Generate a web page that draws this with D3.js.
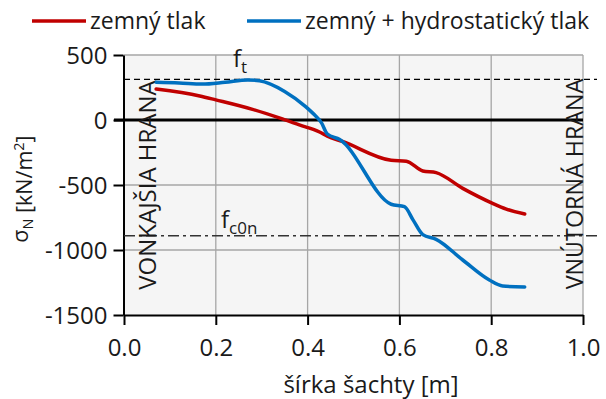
<!DOCTYPE html>
<html>
<head>
<meta charset="utf-8">
<script src="https://cdn.jsdelivr.net/npm/d3@7"></script>
<style>
  html, body { margin: 0; padding: 0; background: #fff; }
  svg text { font-family: "Open Sans", "Noto Sans", sans-serif; fill: #1a1a1a; }
</style>
</head>
<body>
<svg id="chart" width="606" height="399"></svg>
<script>
// Normal stress across the shaft wall width
const seriesNames = ["zemný tlak", "zemný + hydrostatický tlak"];
const seriesColors = ["#c00000", "#0070c0"];

const earthX = [0.07, 0.165, 0.2, 0.28, 0.345, 0.382, 0.426, 0.443, 0.476, 0.582, 0.615, 0.651, 0.68, 0.738, 0.803, 0.833, 0.873];
const earthY = [238, 185, 155, 82, 8, -38, -92, -125, -165, -310, -317, -392, -405, -526, -641, -685, -723];

const hydroX = [0.07, 0.12, 0.17, 0.22, 0.27, 0.295, 0.35, 0.395, 0.415, 0.43, 0.443, 0.47, 0.582, 0.611, 0.63, 0.651, 0.68, 0.738, 0.796, 0.825, 0.873];
const hydroY = [290, 285, 276, 290, 308, 302, 220, 105, 40, -20, -108, -150, -648, -667, -770, -882, -918, -1077, -1231, -1277, -1285];

const xTicks = [0, 0.2, 0.4, 0.6, 0.8, 1.0];
const yTicks = [500, 0, -500, -1000, -1500];

const ftValue = 313;     // tensile strength f_t
const fc0nValue = -890;  // compressive strength f_c0n

const svg = d3.select("#chart");
const plotL = 124, plotR = 583, plotT = 55, plotB = 315;

const x = d3.scaleLinear().domain([0, 1]).range([plotL, plotR]);
const y = d3.scaleLinear().domain([-1500, 500]).range([plotB, plotT]);

// plot area
svg.append("rect").attr("x", plotL).attr("y", plotT)
  .attr("width", plotR - plotL).attr("height", plotB - plotT).attr("fill", "#f5f5f5");

// grid
svg.append("g").selectAll("line").data(xTicks.slice(1)).join("line")
  .attr("x1", d => x(d)).attr("x2", d => x(d)).attr("y1", plotT).attr("y2", plotB)
  .attr("stroke", "#a6a6a6").attr("stroke-width", 1.3);
svg.append("g").selectAll("line").data(yTicks.filter(d => d !== 0 && d !== -1500)).join("line")
  .attr("x1", plotL).attr("x2", plotR).attr("y1", d => y(d)).attr("y2", d => y(d))
  .attr("stroke", "#a6a6a6").attr("stroke-width", 1.3);

// axes
const xAxis = svg.append("g").attr("transform", `translate(0,${plotB})`)
  .call(d3.axisBottom(x).tickValues(xTicks).tickFormat(d3.format(".1f")).tickSizeInner(10).tickSizeOuter(0).tickPadding(14));
const yAxis = svg.append("g").attr("transform", `translate(${plotL - 0.5},0)`)
  .call(d3.axisLeft(y).tickValues(yTicks).tickFormat(d => String(d)).tickSizeInner(10).tickSizeOuter(0).tickPadding(6));
[xAxis, yAxis].forEach(g => {
  g.select(".domain").attr("stroke", "#000").attr("stroke-width", 2);
  g.selectAll(".tick line").attr("stroke", "#000").attr("stroke-width", 2);
  g.selectAll(".tick text").attr("font-size", 24).attr("font-family", "Open Sans, sans-serif").attr("fill", "#1a1a1a");
});
yAxis.selectAll(".tick text").attr("dy", "0.36em");

// zero line
svg.append("line").attr("x1", plotL - 10).attr("x2", plotR)
  .attr("y1", y(0)).attr("y2", y(0)).attr("stroke", "#000").attr("stroke-width", 3);

// strength limits
svg.append("line").attr("x1", plotL).attr("x2", 597)
  .attr("y1", y(ftValue)).attr("y2", y(ftValue))
  .attr("stroke", "#000").attr("stroke-width", 1.2).attr("stroke-dasharray", "6,4");
svg.append("line").attr("x1", plotL).attr("x2", 599)
  .attr("y1", y(fc0nValue)).attr("y2", y(fc0nValue))
  .attr("stroke", "#333").attr("stroke-width", 1.4).attr("stroke-dasharray", "11,4,3,4");

const ft = svg.append("text").attr("x", 233).attr("y", 67).attr("font-size", 24);
ft.append("tspan").text("f");
ft.append("tspan").attr("font-size", 17).attr("dy", 6).text("t");
const fc = svg.append("text").attr("x", 221).attr("y", 228).attr("font-size", 24);
fc.append("tspan").text("f");
fc.append("tspan").attr("font-size", 17).attr("dy", 6).text("c0n");

// edge labels
svg.append("text").attr("transform", `translate(156,185) rotate(-90)`)
  .attr("text-anchor", "middle").attr("font-size", 24).text("VONKAJŠIA HRANA");
svg.append("text").attr("transform", `translate(583,184) rotate(-90)`)
  .attr("text-anchor", "middle").attr("font-size", 23.3).text("VNÚTORNÁ HRANA");

// series
const line = d3.line().x(d => x(d[0])).y(d => y(d[1])).curve(d3.curveMonotoneX);
const series = [d3.zip(earthX, earthY), d3.zip(hydroX, hydroY)];
series.forEach((pts, i) => {
  svg.append("path").datum(pts).attr("d", line)
    .attr("fill", "none").attr("stroke", seriesColors[i]).attr("stroke-width", 3.5)
    .attr("stroke-linejoin", "round").attr("stroke-linecap", "round");
});

// axis titles
svg.append("text").attr("x", 371).attr("y", 393).attr("text-anchor", "middle")
  .attr("font-size", 24).text("šírka šachty [m]");
const yt = svg.append("text").attr("transform", "translate(32,189) rotate(-90)")
  .attr("text-anchor", "middle").attr("font-size", 21.5);
yt.append("tspan").attr("dy", -4).text("σ");
yt.append("tspan").attr("font-size", 14.5).attr("dy", 5).text("N");
yt.append("tspan").attr("dy", -1).text(" [kN/m");
yt.append("tspan").attr("font-size", 14.5).attr("dy", -8).text("2");
yt.append("tspan").attr("dy", 8).text("]");

// legend
const legendX = [32, 247];
seriesNames.forEach((name, i) => {
  svg.append("line").attr("x1", legendX[i]).attr("x2", legendX[i] + 54)
    .attr("y1", 21).attr("y2", 21).attr("stroke", seriesColors[i]).attr("stroke-width", 3.5);
  svg.append("text").attr("x", legendX[i] + 58).attr("y", 29).attr("font-size", 23).text(name);
});
</script>
</body>
</html>
